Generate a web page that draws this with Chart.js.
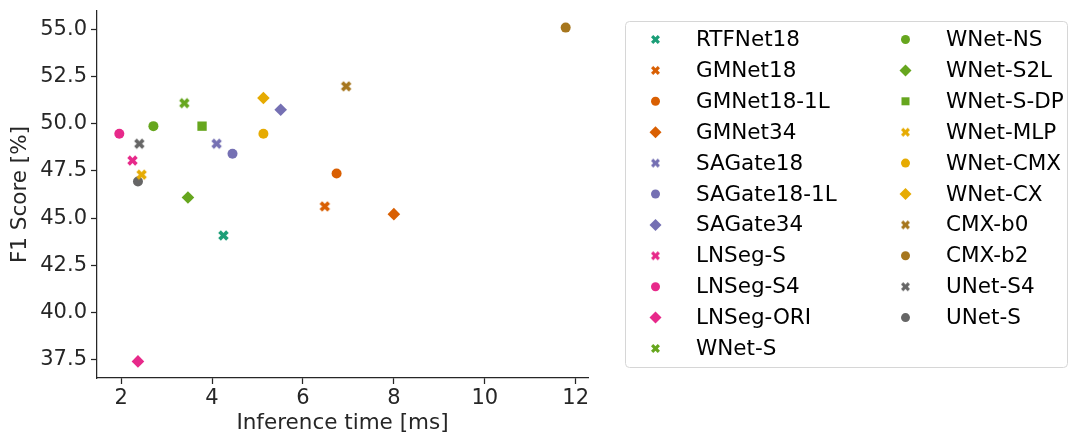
<!DOCTYPE html>
<html>
<head>
<meta charset="utf-8">
<script src="https://cdn.jsdelivr.net/npm/chart.js@4"></script>
<style>
  html, body { margin: 0; padding: 0; background: #fff; }
</style>
</head>
<body>
<canvas id="scatter" width="1070" height="435"></canvas>
<script>
// model name, inference time (ms) and F1 score (%)
const models = ['RTFNet18', 'GMNet18', 'GMNet18-1L', 'GMNet34', 'SAGate18', 'SAGate18-1L', 'SAGate34',
  'LNSeg-S', 'LNSeg-S4', 'LNSeg-ORI', 'WNet-S', 'WNet-NS', 'WNet-S2L', 'WNet-S-DP', 'WNet-MLP',
  'WNet-CMX', 'WNet-CX', 'CMX-b0', 'CMX-b2', 'UNet-S4', 'UNet-S'];
const inferenceMs = [4.25, 6.48, 6.74, 8.00, 4.10, 4.45, 5.51, 2.25, 1.96, 2.37, 3.39, 2.71, 3.47, 3.78,
  2.45, 5.13, 5.13, 6.95, 11.78, 2.40, 2.37];
const f1Score = [44.08, 45.62, 47.36, 45.21, 48.94, 48.41, 50.74, 48.05, 49.47, 37.41, 51.09, 49.87, 46.09,
  49.87, 47.30, 49.47, 51.36, 51.98, 55.09, 48.94, 46.94];
const xTicks = [2, 4, 6, 8, 10, 12];
const yTicks = [37.5, 40.0, 42.5, 45.0, 47.5, 50.0, 52.5, 55.0];

// styling per model (Dark2 colours, seaborn-like markers)
const markerColors = ['#1b9e77', '#d95f02', '#d95f02', '#d95f02', '#7570b3', '#7570b3', '#7570b3',
  '#e7298a', '#e7298a', '#e7298a', '#66a61e', '#66a61e', '#66a61e', '#66a61e', '#e6ab02',
  '#e6ab02', '#e6ab02', '#a6761d', '#a6761d', '#666666', '#666666'];
const markerShapes = ['X', 'X', 'o', 'D', 'X', 'o', 'D', 'X', 'o', 'D', 'X', 'o', 'D', 's', 'X',
  'o', 'D', 'X', 'o', 'X', 'o'];

const FONT = "'DejaVu Sans', sans-serif";
const INK = '#262626';

// filled "X" marker drawn into a small canvas
function xMarker(color, span) {
  const c = document.createElement('canvas');
  const n = Math.ceil(span) + 2;
  c.width = n; c.height = n;
  const g = c.getContext('2d');
  const L = span / 0.943, a = L / 2, b = L / 6;
  const pts = [[b, -a], [b, -b], [a, -b], [a, b], [b, b], [b, a], [-b, a], [-b, b], [-a, b], [-a, -b], [-b, -b], [-b, -a]];
  g.translate(n / 2, n / 2);
  g.rotate(Math.PI / 4);
  g.beginPath();
  pts.forEach(([x, y], i) => i ? g.lineTo(x, y) : g.moveTo(x, y));
  g.closePath();
  g.fillStyle = color;
  g.fill();
  return c;
}

function pointOpts(shape, color) {
  if (shape === 'X') return { pointStyle: xMarker(color, 10.5), radius: 6 };
  if (shape === 'D') return { pointStyle: 'rectRot', radius: 6.3 };
  if (shape === 's') return { pointStyle: 'rect', radius: 6.6 };
  return { pointStyle: 'circle', radius: 5 };
}

const datasets = models.map((name, i) => {
  const p = pointOpts(markerShapes[i], markerColors[i]);
  return {
    label: name,
    data: [{ x: inferenceMs[i], y: f1Score[i] }],
    backgroundColor: markerColors[i],
    borderColor: markerColors[i],
    borderWidth: 0,
    pointStyle: p.pointStyle,
    pointRadius: p.radius,
    pointHoverRadius: p.radius
  };
});

// two-column boxed legend at the right
const boxLegend = {
  id: 'boxLegend',
  afterDraw(chart) {
    const ctx = chart.ctx;
    ctx.save();
    ctx.strokeStyle = '#d6d6d6';
    ctx.lineWidth = 1;
    ctx.beginPath();
    ctx.roundRect(625.5, 21.5, 442, 346, 4);
    ctx.stroke();
    ctx.font = '21.5px ' + FONT;
    ctx.textBaseline = 'middle';
    models.forEach((name, i) => {
      const col = i < 11 ? 0 : 1;
      const row = i < 11 ? i : i - 11;
      const mx = col ? 905.5 : 655.5;
      const my = 39.5 + row * 30.9;
      const color = markerColors[i];
      const shape = markerShapes[i];
      ctx.fillStyle = color;
      if (shape === 'X') {
        const img = xMarker(color, 9);
        ctx.drawImage(img, mx - img.width / 2, my - img.height / 2);
      } else if (shape === 'D') {
        ctx.beginPath();
        ctx.moveTo(mx, my - 6); ctx.lineTo(mx + 6, my); ctx.lineTo(mx, my + 6); ctx.lineTo(mx - 6, my);
        ctx.closePath(); ctx.fill();
      } else if (shape === 's') {
        ctx.fillRect(mx - 4, my - 4, 8, 8);
      } else {
        ctx.beginPath(); ctx.arc(mx, my, 4.5, 0, Math.PI * 2); ctx.fill();
      }
      ctx.fillStyle = '#000';
      ctx.fillText(name, col ? 946 : 696, my + 1);
    });
    ctx.restore();
  }
};

new Chart(document.getElementById('scatter'), {
  type: 'scatter',
  data: { datasets },
  plugins: [boxLegend],
  options: {
    responsive: false,
    devicePixelRatio: 1,
    animation: false,
    layout: { padding: { top: 11, right: 482, bottom: 0, left: 0 } },
    plugins: { legend: { display: false }, tooltip: { enabled: false } },
    scales: {
      x: {
        type: 'linear',
        min: 1.469,
        max: 12.271,
        afterBuildTicks: s => { s.ticks = xTicks.map(v => ({ value: v })); },
        afterFit: s => { s.height = 57; s.paddingLeft = 0; s.paddingRight = 0; },
        ticks: { font: { family: FONT, size: 21 }, color: INK, padding: 2, maxRotation: 0 },
        grid: { drawOnChartArea: false, drawTicks: true, tickLength: 6, tickWidth: 1.25, color: INK },
        border: { display: true, color: INK, width: 1.25 },
        title: { display: true, text: 'Inference time [ms]', font: { family: FONT, size: 21.5 }, color: INK, padding: { top: 0, bottom: -1 } }
      },
      y: {
        min: 36.53,
        max: 55.97,
        afterBuildTicks: s => { s.ticks = yTicks.map(v => ({ value: v })); },
        afterFit: s => { s.width = 97; s.paddingTop = 0; s.paddingBottom = 0; },
        ticks: { font: { family: FONT, size: 21 }, color: INK, padding: 4, callback: v => v.toFixed(1) },
        grid: { drawOnChartArea: false, drawTicks: true, tickLength: 6, tickWidth: 1.25, color: INK },
        border: { display: true, color: INK, width: 1.25 },
        title: { display: true, text: 'F1 Score [%]', font: { family: FONT, size: 21.5 }, color: INK, padding: { top: 8, bottom: 0 } }
      }
    }
  }
});
</script>
</body>
</html>
